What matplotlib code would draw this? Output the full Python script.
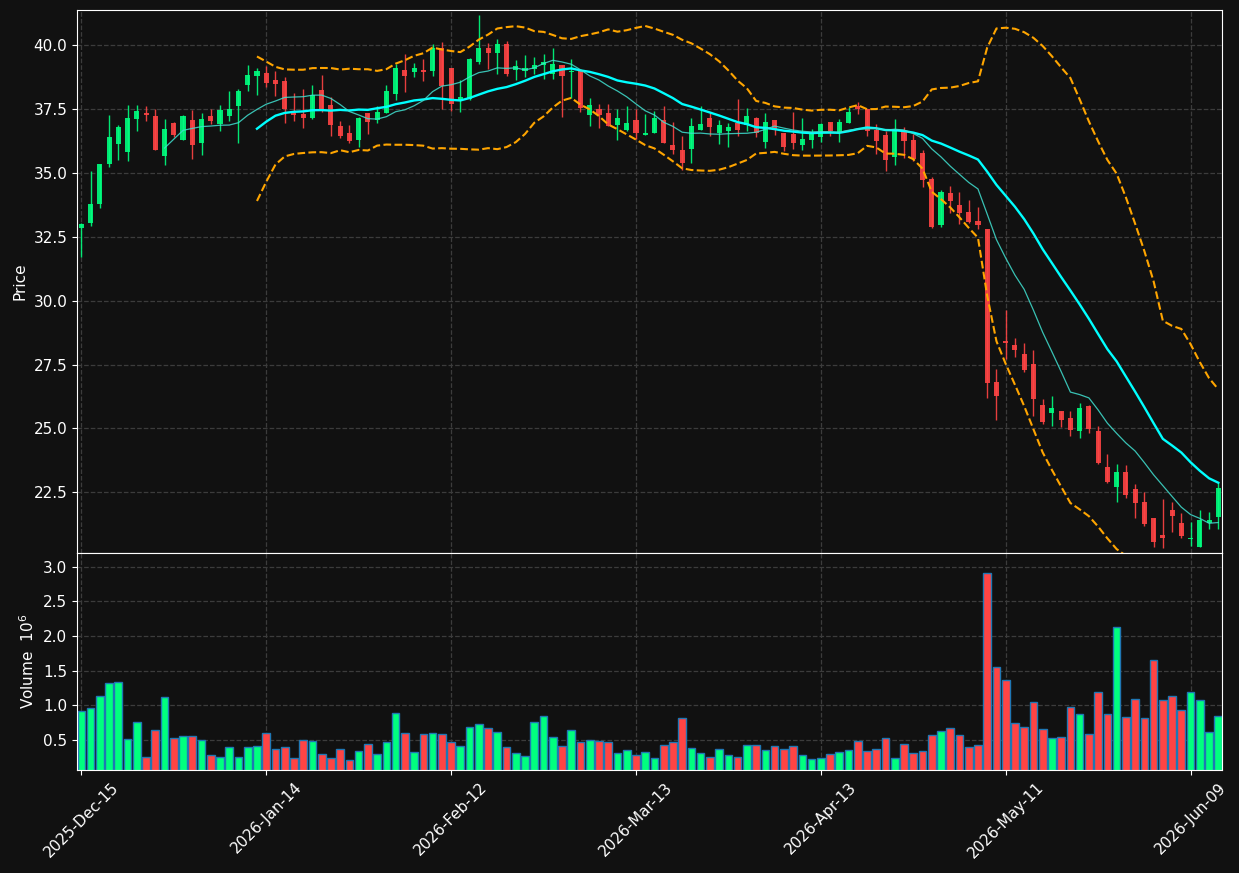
import matplotlib
matplotlib.use("Agg")
import matplotlib.pyplot as plt
import numpy as np
import pandas as pd

# NYSE trading days, Dec 15 2025 .. Jun 12 2026
holidays = ["2025-12-25", "2026-01-01", "2026-01-19", "2026-02-16", "2026-04-03", "2026-05-25"]
dates = pd.bdate_range("2025-12-15", "2026-06-12", freq="C", holidays=holidays)

opens = [32.85, 33.05, 33.80, 35.35, 36.15, 35.82, 37.12, 37.33, 37.22, 35.67,
         36.95, 36.29, 37.06, 36.18, 37.22, 36.91, 37.22, 37.62, 38.43, 38.80,
         38.90, 38.64, 38.59, 37.34, 37.29, 37.14, 38.24, 37.64, 36.83, 36.55,
         36.29, 37.33, 37.08, 37.35, 38.09, 39.02, 38.96, 39.02, 38.99, 39.90,
         39.09, 37.85, 37.89, 39.35, 39.88, 39.70, 40.04, 39.03, 38.99, 39.06,
         39.22, 38.89, 39.22, 38.96, 38.99, 37.27, 37.49, 37.34, 36.88, 36.68,
         37.06, 36.49, 36.55, 37.06, 36.08, 35.89, 35.94, 36.68, 37.14, 36.55,
         36.65, 36.97, 36.86, 37.17, 36.21, 37.06, 36.55, 36.52, 36.08, 36.29,
         36.41, 36.99, 36.62, 36.95, 37.62, 37.49, 36.67, 36.48, 35.63, 36.65,
         36.28, 35.77, 34.75, 32.96, 34.21, 33.74, 33.46, 33.11, 32.80, 26.81,
         28.41, 28.27, 27.90, 27.51, 25.91, 25.62, 25.67, 25.40, 24.90, 25.88,
         24.88, 23.50, 22.71, 23.30, 22.64, 22.11, 21.48, 20.82, 21.81, 21.29,
         20.67, 20.36, 21.31, 21.53]
highs = [33.05, 35.09, 35.36, 37.26, 36.87, 37.64, 37.64, 37.62, 37.49, 37.10,
         37.00, 37.28, 37.45, 37.33, 37.49, 37.66, 38.20, 38.27, 39.22, 39.09,
         39.17, 38.98, 38.76, 38.11, 38.27, 38.46, 38.85, 37.99, 37.05, 36.86,
         37.19, 37.35, 37.62, 38.45, 39.26, 39.65, 39.30, 39.45, 40.04, 40.11,
         39.11, 38.64, 39.50, 41.17, 40.07, 40.26, 40.17, 39.41, 39.61, 39.52,
         39.65, 39.91, 39.24, 39.45, 39.01, 37.95, 37.69, 37.71, 37.49, 37.62,
         37.52, 37.29, 37.43, 37.62, 37.01, 36.43, 37.17, 37.62, 37.34, 37.06,
         36.97, 37.91, 37.56, 37.18, 37.33, 37.07, 36.56, 37.37, 37.17, 36.71,
         36.97, 37.00, 37.13, 37.60, 37.76, 37.52, 36.91, 36.65, 37.10, 36.78,
         36.54, 35.90, 34.86, 34.32, 34.49, 34.26, 33.94, 33.68, 32.82, 27.34,
         29.62, 28.55, 28.36, 28.07, 26.14, 26.25, 25.68, 25.67, 26.00, 25.90,
         25.10, 24.01, 23.62, 23.58, 22.84, 22.51, 21.50, 22.22, 22.12, 21.67,
         21.32, 21.79, 21.74, 22.90]
lows = [31.70, 32.93, 33.62, 35.25, 35.51, 35.48, 36.66, 37.05, 35.88, 35.33,
        36.40, 36.27, 35.56, 35.69, 36.91, 36.64, 37.04, 36.19, 38.21, 38.07,
        38.38, 38.02, 36.97, 37.05, 36.74, 37.12, 37.39, 36.45, 36.37, 36.19,
        36.03, 36.54, 36.97, 37.33, 37.85, 38.15, 38.77, 38.60, 38.80, 37.52,
        37.43, 37.37, 37.87, 39.26, 39.06, 38.86, 38.80, 38.63, 38.74, 38.86,
        38.67, 38.67, 37.19, 37.95, 37.37, 36.84, 36.74, 36.84, 36.28, 36.64,
        36.32, 36.49, 36.55, 36.16, 35.76, 35.13, 35.37, 36.68, 36.45, 36.15,
        36.03, 36.45, 36.64, 36.39, 35.96, 36.49, 35.84, 35.93, 35.90, 35.96,
        36.21, 36.45, 36.23, 36.94, 37.30, 36.45, 35.76, 35.08, 35.33, 35.60,
        35.45, 34.43, 32.86, 32.90, 33.42, 32.99, 33.05, 32.80, 26.19, 25.33,
        27.71, 27.81, 27.19, 25.49, 25.16, 25.10, 25.07, 24.70, 24.64, 24.80,
        23.62, 22.85, 22.13, 22.26, 21.51, 21.18, 20.37, 20.33, 20.96, 20.69,
        20.40, 20.36, 21.05, 21.08]
closes = [33.00, 33.77, 35.34, 36.40, 36.79, 37.14, 37.42, 37.27, 35.90, 36.71,
          36.48, 37.22, 36.10, 37.10, 37.02, 37.45, 37.49, 38.20, 38.83, 38.98,
          38.51, 38.47, 37.51, 37.26, 37.14, 38.05, 37.52, 36.88, 36.45, 36.25,
          37.17, 37.00, 37.37, 38.19, 39.09, 38.80, 39.09, 38.96, 39.91, 38.41,
          37.70, 37.99, 39.45, 39.88, 39.70, 40.04, 38.89, 39.17, 39.10, 39.24,
          39.36, 39.26, 38.80, 39.00, 37.53, 37.64, 37.26, 36.84, 37.14, 36.97,
          36.58, 36.58, 37.14, 36.16, 35.90, 35.38, 36.83, 36.91, 36.80, 36.87,
          36.79, 36.68, 37.21, 36.58, 37.01, 36.68, 36.02, 36.16, 36.32, 36.58,
          36.91, 36.65, 36.99, 37.40, 37.52, 36.65, 36.25, 35.51, 36.65, 36.25,
          35.56, 34.73, 32.89, 34.27, 33.91, 33.43, 33.08, 32.96, 26.79, 26.27,
          28.34, 28.07, 27.29, 26.14, 25.25, 25.79, 25.33, 24.94, 25.81, 24.97,
          23.63, 22.90, 23.30, 22.39, 22.08, 21.25, 20.55, 20.71, 21.57, 20.79,
          20.72, 21.40, 21.40, 22.68]
# volume in millions
volumes = [0.92, 0.96, 1.13, 1.32, 1.33, 0.51, 0.76, 0.25, 0.64, 1.12,
           0.52, 0.55, 0.55, 0.50, 0.28, 0.25, 0.39, 0.25, 0.39, 0.41,
           0.60, 0.37, 0.39, 0.24, 0.50, 0.48, 0.29, 0.24, 0.37, 0.21,
           0.34, 0.44, 0.29, 0.47, 0.89, 0.60, 0.32, 0.58, 0.60, 0.58,
           0.47, 0.41, 0.68, 0.73, 0.67, 0.61, 0.39, 0.31, 0.26, 0.76,
           0.84, 0.54, 0.41, 0.64, 0.47, 0.50, 0.48, 0.47, 0.31, 0.35,
           0.28, 0.32, 0.24, 0.42, 0.47, 0.81, 0.38, 0.31, 0.25, 0.37,
           0.28, 0.25, 0.42, 0.42, 0.35, 0.41, 0.37, 0.41, 0.28, 0.22,
           0.24, 0.29, 0.32, 0.35, 0.48, 0.34, 0.37, 0.52, 0.24, 0.44,
           0.31, 0.34, 0.57, 0.63, 0.67, 0.57, 0.39, 0.42, 2.91, 1.55,
           1.36, 0.74, 0.68, 1.04, 0.65, 0.52, 0.54, 0.97, 0.87, 0.58,
           1.19, 0.87, 2.13, 0.83, 1.09, 0.81, 1.65, 1.07, 1.13, 0.93,
           1.19, 1.07, 0.61, 0.84]

bg = "#111111"
up_color = "#00ff7f"
down_color = "#ff4444"
grid_color = "#3c3c3c"

df = pd.DataFrame({"open": opens, "high": highs, "low": lows,
                   "close": closes, "volume": volumes}, index=dates)
x = np.arange(len(df))
up = df["close"] >= df["open"]
colors = np.where(up, up_color, down_color)

ma10 = df["close"].rolling(10).mean()
ma20 = df["close"].rolling(20).mean()
sd20 = df["close"].rolling(20).std(ddof=0)

W, H = 1239, 873
fig = plt.figure(figsize=(W / 100, H / 100), dpi=100, facecolor=bg)
ax = fig.add_axes([77 / W, 1 - 553 / H, (1222 - 77) / W, (553 - 10) / H])
axv = fig.add_axes([77 / W, 1 - 770 / H, (1222 - 77) / W, (770 - 553) / H], sharex=ax)

# candles
ax.vlines(x, df["low"], df["high"], colors=colors, linewidth=1.0, alpha=0.9)
body_lo = np.minimum(df["open"], df["close"])
body_h = np.maximum(np.abs(df["close"] - df["open"]), 0.03)
ax.bar(x, body_h, bottom=body_lo, width=0.55, color=colors, alpha=0.9, linewidth=0)

ax.plot(x, ma20, color="#00ffff", linewidth=1.7)
ax.plot(x, ma10, color="#40e0d0", linewidth=0.9, alpha=0.85)
ax.plot(x, ma20 + 2 * sd20, color="#ffa500", linewidth=1.5, linestyle="--")
ax.plot(x, ma20 - 2 * sd20, color="#ffa500", linewidth=1.5, linestyle="--")

# volume
axv.bar(x, df["volume"], width=0.83, color=colors, edgecolor="#1f77b4", linewidth=1.0)

pad = 0.01 * (df["high"].max() - df["low"].min())
ax.set_ylim(df["low"].min() - pad, df["high"].max() + pad)
axv.set_ylim(0.3 * df["volume"].min(), 1.1 * df["volume"].max())
ax.set_xlim(-0.47, len(df) - 0.6)

ax.set_yticks(np.arange(22.5, 40.1, 2.5))
ax.yaxis.set_major_formatter(matplotlib.ticker.FormatStrFormatter("%.1f"))
axv.set_yticks(np.arange(0.5, 3.01, 0.5))
axv.yaxis.set_major_formatter(matplotlib.ticker.FormatStrFormatter("%.1f"))

ticks = x[::20]
axv.set_xticks(ticks)
axv.set_xticklabels(dates[::20].strftime("%Y-%b-%d"), rotation=45, ha="center")
ax.tick_params(axis="x", labelbottom=False, length=0)

ax.set_ylabel("Price", color="white", fontsize=11)
axv.set_ylabel("Volume  $10^{6}$", color="white", fontsize=11)

for a in (ax, axv):
    a.set_facecolor(bg)
    a.grid(True, color=grid_color, linestyle="--", linewidth=0.9)
    a.set_axisbelow(True)
    a.tick_params(colors="white", labelsize=11)
    for s in a.spines.values():
        s.set_color("white")

fig.savefig("out.png", dpi=100, facecolor=bg)
